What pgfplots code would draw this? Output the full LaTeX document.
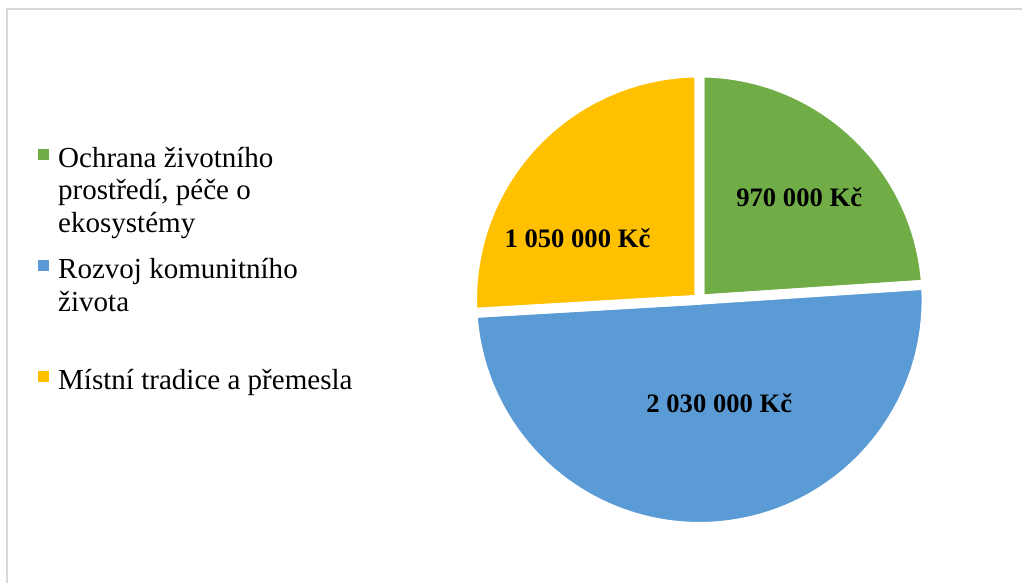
\documentclass[border=0pt]{standalone}
\usepackage{fontspec}
\setmainfont{Liberation Serif}
\usepackage{pgfplots}
\usepackage{pgfplotstable}
\pgfplotsset{compat=1.18}

\definecolor{cGreen}{HTML}{70AD47}
\definecolor{cBlue}{HTML}{5B9BD5}
\definecolor{cGold}{HTML}{FFC000}
\definecolor{cFrame}{HTML}{D9D9D9}

% amounts in Kc, in the order of the legend
\pgfplotstableread{
value
970000
2030000
1050000
}\piedata

\pgfplotstablegetelem{0}{value}\of\piedata \edef\vA{\pgfplotsretval}
\pgfplotstablegetelem{1}{value}\of\piedata \edef\vB{\pgfplotsretval}
\pgfplotstablegetelem{2}{value}\of\piedata \edef\vC{\pgfplotsretval}
\edef\total{\fpeval{\vA+\vB+\vC}}
% slices run clockwise from 12 o'clock
\edef\aA{\fpeval{90-360*\vA/\total}}
\edef\aB{\fpeval{\aA-360*\vB/\total}}
\edef\aC{\fpeval{\aB-360*\vC/\total}}

% legend text: top-aligned block, baseline = first line
\newcommand\entry[1]{\parbox[t]{240pt}{\raggedright\strut #1}}

\begin{document}
\begin{tikzpicture}
\begin{axis}[
  x=0.75pt, y=0.75pt,
  xmin=0, xmax=1023, ymin=0, ymax=584,
  y dir=reverse,
  hide axis,
  clip=false,
  legend cell align=left,
  legend image code/.code={\fill[#1, draw=none] (0pt,-2.4pt) rectangle (8.25pt,5.85pt);},
  legend style={at={(axis cs:37.5,144.5)}, anchor=north west,
    draw=none, fill=none, inner sep=0pt,
    row sep=64.85pt, column sep=7.1pt,
    nodes={inner sep=0pt},
    font=\fontsize{21.8}{24.4}\selectfont},
]
\path (axis cs:0,0) rectangle (axis cs:1023,584);
\draw[cFrame, line width=1.5pt] (axis cs:7,584) -- (axis cs:7,9) -- (axis cs:1023,9);

\def\R{170.6pt}
\path[fill=cGreen, draw=white, line width=7.5pt, line join=round]
  (axis cs:700,300) -- ++(90:\R) arc[start angle=90, end angle=\aA, radius=\R] -- cycle;
\path[fill=cBlue, draw=white, line width=7.5pt, line join=round]
  (axis cs:700,300) -- ++(\aA:\R) arc[start angle=\aA, end angle=\aB, radius=\R] -- cycle;
\path[fill=cGold, draw=white, line width=7.5pt, line join=round]
  (axis cs:700,300) -- ++(\aB:\R) arc[start angle=\aB, end angle=\aC, radius=\R] -- cycle;

\begin{scope}[every node/.style={font=\bfseries\fontsize{20}{24}\selectfont}]
\node at (axis cs:800,197) {970 000 Kč};
\node at (axis cs:720,404) {2 030 000 Kč};
\node at (axis cs:578,238) {1 050 000 Kč};
\end{scope}

\addlegendimage{fill=cGreen}
\addlegendentry{\entry{Ochrana životního\\prostředí, péče o\\ekosystémy}}
\addlegendimage{fill=cBlue}
\addlegendentry{\entry{Rozvoj komunitního\\života}}
\addlegendimage{fill=cGold}
\addlegendentry{\entry{Místní tradice a přemesla}}
\end{axis}
\end{tikzpicture}
\end{document}
